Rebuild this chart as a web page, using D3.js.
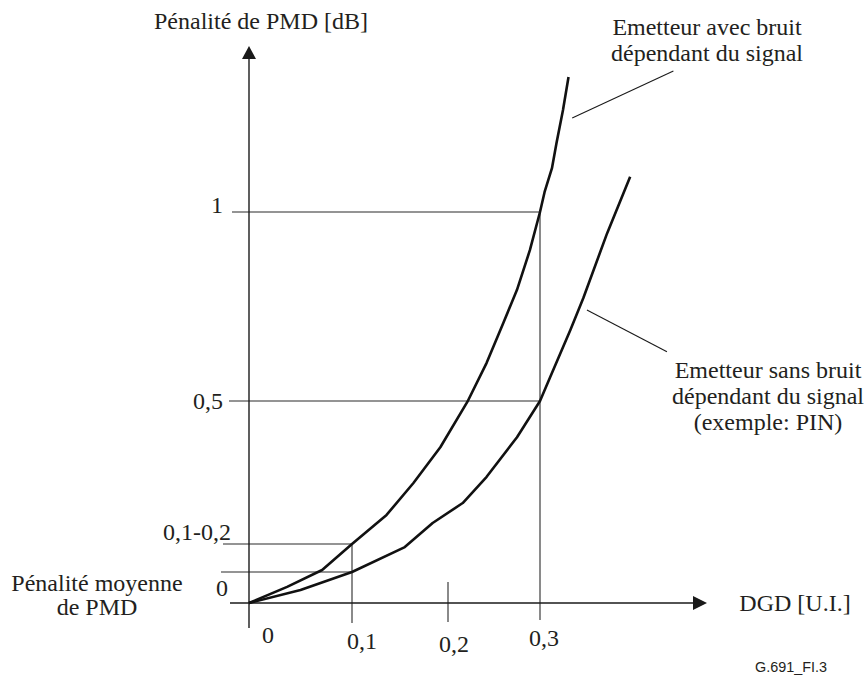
<!DOCTYPE html>
<html>
<head>
  <meta charset="utf-8">
  <title>Pénalité de PMD</title>
  <script src="https://cdnjs.cloudflare.com/ajax/libs/d3/7.8.5/d3.min.js"></script>
  <style>
    body { margin: 0; background: #fff; }
    svg text { font-family: "Liberation Serif", "Times New Roman", serif; font-size: 24px; fill: #231f20; }
  </style>
</head>
<body>
<svg id="chart" width="866" height="677"></svg>
<script>
// DGD ticks on the x axis
const xTicks = [0, 0.1, 0.2, 0.3];
const xTickLabels = ["0", "0,1", "0,2", "0,3"];

// penalty levels with guide lines
const yLevels = [1, 0.5, 0.2, 0.1];
const yLabels = ["1", "0,5", "0,1-0,2", "0"];
const yLabelAt = [1, 0.5, 0.2, 0];

// curves: [DGD, penalty dB]
const avecBruit = [
  [0, 0], [0.037, 0.052], [0.071, 0.107], [0.1, 0.2], [0.136, 0.261], [0.164, 0.328],
  [0.192, 0.403], [0.221, 0.498], [0.242, 0.601], [0.26, 0.706], [0.275, 0.794],
  [0.289, 0.899], [0.3, 1.0], [0.305, 1.053], [0.313, 1.116], [0.318, 1.183],
  [0.325, 1.27], [0.331, 1.357]
];
const sansBruit = [
  [0, 0], [0.05, 0.042], [0.1, 0.1], [0.155, 0.189], [0.184, 0.244], [0.216, 0.286],
  [0.242, 0.341], [0.275, 0.424], [0.3, 0.5], [0.311, 0.563], [0.333, 0.688],
  [0.347, 0.772], [0.373, 0.944], [0.398, 1.093]
];

const labelAvec = ["Emetteur avec bruit", "dépendant du signal"];
const labelSans = ["Emetteur sans bruit", "dépendant du signal", "(exemple: PIN)"];

const svg = d3.select("#chart");

// hand-drawn figure: the spacing is not uniform, so piecewise scales
const x = d3.scaleLinear().domain([0, 0.1, 0.2, 0.3]).range([249, 352, 448, 540]);
const y = d3.scaleLinear().domain([0, 0.1, 0.2, 0.5, 1]).range([603, 572, 544, 401, 212]);

const ink = "#1a1a1a";

/** guide lines */
const guides = svg.append("g").attr("stroke", "#2a2a2a").attr("stroke-width", 1.1);
const guideLeft = { 1: 232, 0.5: 229, 0.2: 223, 0.1: 221 };
guides.selectAll(".h").data(yLevels).join("line")
  .attr("x1", d => guideLeft[d])
  .attr("x2", d => d >= 0.5 ? x(0.3) : x(0.1))
  .attr("y1", d => y(d)).attr("y2", d => y(d));

const tickBottom = { 0.1: 623, 0.2: 622, 0.3: 620 };
guides.selectAll(".v").data(xTicks.slice(1)).join("line")
  .attr("x1", d => x(d)).attr("x2", d => x(d))
  .attr("y1", d => d === 0.1 ? y(0.2) : d === 0.3 ? y(1) : 582)
  .attr("y2", d => tickBottom[d]);

/** axes */
const axes = svg.append("g").attr("stroke", ink).attr("stroke-width", 1.4).attr("fill", ink);
axes.append("line").attr("x1", 230).attr("x2", 695).attr("y1", y(0)).attr("y2", y(0));
axes.append("line").attr("x1", x(0)).attr("x2", x(0)).attr("y1", 628).attr("y2", 58);
axes.append("path").attr("stroke", "none")
  .attr("d", `M707,${y(0)}L693,${y(0) - 7}L693,${y(0) + 7}Z`);
axes.append("path").attr("stroke", "none")
  .attr("d", `M${x(0)},46L${x(0) - 7},59L${x(0) + 7},59Z`);

/** curves */
const line = d3.line().x(d => x(d[0])).y(d => y(d[1]));
svg.append("g").attr("fill", "none").attr("stroke", "#111").attr("stroke-width", 2.6)
  .attr("stroke-linejoin", "round")
  .selectAll("path").data([avecBruit, sansBruit]).join("path")
  .attr("d", line);

/** leader lines */
const leaders = [
  [[0.335, 1.249], [0.445, 1.373]],
  [[0.351, 0.741], [0.438, 0.63]]
];
svg.append("g").attr("stroke", ink).attr("stroke-width", 1.1)
  .selectAll("line").data(leaders).join("line")
  .attr("x1", d => x(d[0][0])).attr("y1", d => y(d[0][1]))
  .attr("x2", d => x(d[1][0])).attr("y2", d => y(d[1][1]));

/** tick labels */
const xLabelPos = [[268, 643], [362, 649], [454, 652], [544, 646]];
svg.append("g").attr("text-anchor", "middle")
  .selectAll("text").data(xTickLabels).join("text")
  .attr("x", (d, i) => xLabelPos[i][0]).attr("y", (d, i) => xLabelPos[i][1])
  .text(d => d);

const yLabelRight = [223, 223, 231, 228];
const yLabelDy = [1, 8, -4, -7];
svg.append("g").attr("text-anchor", "end")
  .selectAll("text").data(yLabels).join("text")
  .attr("x", (d, i) => yLabelRight[i])
  .attr("y", (d, i) => y(yLabelAt[i]) + yLabelDy[i])
  .text(d => d);

/** axis titles */
svg.append("text").attr("x", 261).attr("y", 29).attr("text-anchor", "middle")
  .text("Pénalité de PMD [dB]");
svg.append("text").attr("x", 795).attr("y", 611).attr("text-anchor", "middle")
  .text("DGD [U.I.]");

const moy = svg.append("text").attr("text-anchor", "middle");
moy.append("tspan").attr("x", 97).attr("y", 591).text("Pénalité moyenne");
moy.append("tspan").attr("x", 97).attr("y", 615).text("de PMD");

/** curve labels */
svg.append("text").attr("text-anchor", "middle")
  .selectAll("tspan").data(labelAvec).join("tspan")
  .attr("x", 707).attr("y", (d, i) => 35 + i * 26).text(d => d);
svg.append("text").attr("text-anchor", "middle")
  .selectAll("tspan").data(labelSans).join("tspan")
  .attr("x", 768).attr("y", (d, i) => 378 + i * 26).text(d => d);

/** figure reference */
svg.append("text").attr("x", 791).attr("y", 672).attr("text-anchor", "middle")
  .style("font-family", "'Liberation Sans', Arial, sans-serif").style("font-size", "14px")
  .attr("textLength", 72).attr("lengthAdjust", "spacingAndGlyphs")
  .text("G.691_FI.3");
</script>
</body>
</html>
